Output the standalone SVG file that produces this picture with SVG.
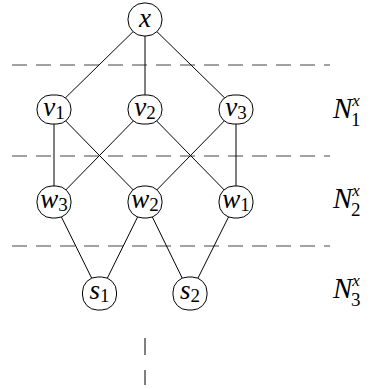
<svg xmlns="http://www.w3.org/2000/svg" width="376" height="389" viewBox="0 0 376 389">
<style>
.n{fill:#fff;stroke:#000;stroke-width:1}
.e{stroke:#000;stroke-width:1;fill:none}
.d{stroke:#444;stroke-width:1.2;stroke-dasharray:15 9;fill:none}
.t{font-family:"Liberation Serif","DejaVu Serif",serif;font-style:italic;font-size:27px;text-anchor:middle}
.s{font-style:normal;font-size:19px}
.l{font-family:"Liberation Serif","DejaVu Serif",serif;font-style:italic;font-size:29px}
</style>
<rect width="376" height="389" fill="#fff"/>
<g id="dashes">
<line class="d" x1="12" y1="65" x2="330" y2="65"/>
<line class="d" x1="12" y1="156" x2="330" y2="156"/>
<line class="d" x1="12" y1="246" x2="330" y2="246"/>
<line class="e" x1="145" y1="338" x2="145" y2="355" stroke="#444"/>
<line class="e" x1="145" y1="370" x2="145" y2="385" stroke="#444"/>
</g>
<g id="connectors">
<line class="e" x1="145" y1="20" x2="54" y2="109"/>
<line class="e" x1="145" y1="20" x2="145" y2="109"/>
<line class="e" x1="145" y1="20" x2="236" y2="109"/>
<line class="e" x1="54" y1="109" x2="54" y2="202"/>
<line class="e" x1="54" y1="109" x2="145" y2="202"/>
<line class="e" x1="145" y1="109" x2="54" y2="202"/>
<line class="e" x1="145" y1="109" x2="236" y2="202"/>
<line class="e" x1="236" y1="109" x2="145" y2="202"/>
<line class="e" x1="236" y1="109" x2="236" y2="202"/>
<line class="e" x1="54" y1="202" x2="99.5" y2="294"/>
<line class="e" x1="145" y1="202" x2="99.5" y2="294"/>
<line class="e" x1="145" y1="202" x2="190" y2="294"/>
<line class="e" x1="236" y1="202" x2="190" y2="294"/>
</g>
<g id="x"><rect class="n" x="128" y="3" width="34" height="33" rx="16"/><text class="t" x="145" y="27">x</text></g>
<g id="v1"><rect class="n" x="37" y="95" width="34" height="29" rx="14"/><text class="t" x="54" y="116">v<tspan class="s" dy="3">1</tspan></text></g>
<g id="v2"><rect class="n" x="128" y="95" width="34" height="29" rx="14"/><text class="t" x="145" y="116">v<tspan class="s" dy="3">2</tspan></text></g>
<g id="v3"><rect class="n" x="219" y="95" width="34" height="29" rx="14"/><text class="t" x="236" y="116">v<tspan class="s" dy="3">3</tspan></text></g>
<g id="w3"><rect class="n" x="37" y="186" width="34" height="32" rx="15"/><text class="t" x="54" y="208">w<tspan class="s" dy="3">3</tspan></text></g>
<g id="w2"><rect class="n" x="128" y="186" width="34" height="32" rx="15"/><text class="t" x="145" y="208">w<tspan class="s" dy="3">2</tspan></text></g>
<g id="w1"><rect class="n" x="219" y="186" width="34" height="32" rx="15"/><text class="t" x="236" y="208">w<tspan class="s" dy="3">1</tspan></text></g>
<g id="s1"><rect class="n" x="82.5" y="277" width="34" height="33" rx="15"/><text class="t" x="99.5" y="299">s<tspan class="s" dy="3">1</tspan></text></g>
<g id="s2"><rect class="n" x="173" y="277" width="34" height="33" rx="15"/><text class="t" x="190" y="299">s<tspan class="s" dy="3">2</tspan></text></g>
<g id="labels">
<text class="l" x="333" y="118">N<tspan font-size="17" dy="-12">x</tspan><tspan font-size="19" font-style="normal" dx="-9" dy="20">1</tspan></text>
<text class="l" x="333" y="208">N<tspan font-size="17" dy="-12">x</tspan><tspan font-size="19" font-style="normal" dx="-9" dy="20">2</tspan></text>
<text class="l" x="333" y="298">N<tspan font-size="17" dy="-12">x</tspan><tspan font-size="19" font-style="normal" dx="-9" dy="20">3</tspan></text>
</g>
</svg>
